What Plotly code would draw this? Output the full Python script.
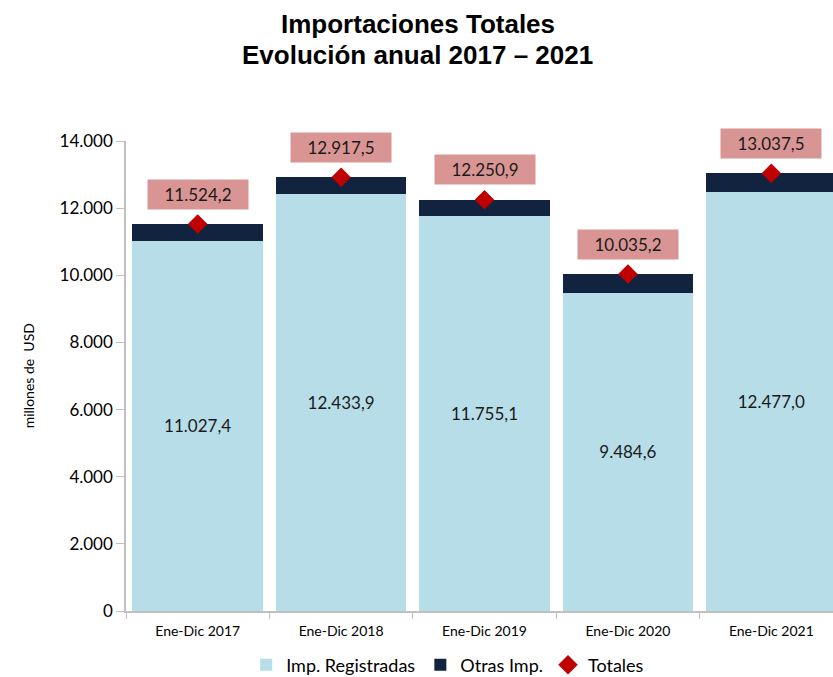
import plotly.graph_objects as go

categories = ["Ene-Dic 2017", "Ene-Dic 2018", "Ene-Dic 2019", "Ene-Dic 2020", "Ene-Dic 2021"]
registradas = [11027.4, 12433.9, 11755.1, 9484.6, 12477.0]
totales = [11524.2, 12917.5, 12250.9, 10035.2, 13037.5]
otras = [round(t - r, 1) for t, r in zip(totales, registradas)]
y_ticks = [0, 2000, 4000, 6000, 8000, 10000, 12000, 14000]

LIGHT = "#b7dde8"
NAVY = "#12233f"
RED = "#c00000"
PINK = "#d99594"
AXIS = "#c0c0c0"
FONT = "Lato"


def es_fmt(v):
    return f"{v:,.1f}".replace(",", "X").replace(".", ",").replace("X", ".")


fig = go.Figure()
fig.add_trace(go.Bar(
    x=categories, y=registradas, name="Imp. Registradas",
    marker=dict(color=LIGHT, line=dict(width=0)),
    texttemplate="%{y:,.1f}", textposition="inside", insidetextanchor="middle",
    textfont=dict(family=FONT, size=17, color="#1a1a1a"),
))
fig.add_trace(go.Bar(
    x=categories, y=otras, name="Otras Imp.",
    marker=dict(color=NAVY, line=dict(width=0)),
    textposition="none",
))
fig.add_trace(go.Scatter(
    x=categories, y=totales, name="Totales", mode="markers",
    marker=dict(symbol="diamond", size=15, color=RED),
    cliponaxis=False,
))

for c, t in zip(categories, totales):
    fig.add_annotation(
        x=c, y=t, xref="x", yref="y", text=es_fmt(t),
        showarrow=False, yshift=30, bgcolor=PINK, borderpad=4,
        font=dict(family=FONT, size=17, color="#1a1a1a"),
        width=92,
    )

fig.add_annotation(x=0.413, y=1.249, xref="paper", yref="paper", yanchor="middle",
                   text="<b>Importaciones Totales</b>",
                   showarrow=False, font=dict(family="Liberation Sans, Arial", size=26, color="black"))
fig.add_annotation(x=0.413, y=1.183, xref="paper", yref="paper", yanchor="middle",
                   text="<b>Evolución anual 2017 – 2021</b>",
                   showarrow=False, font=dict(family="Liberation Sans, Arial", size=26, color="black"))
fig.add_annotation(x=-0.153, y=0.5, xref="paper", yref="paper", text="millones de  USD", textangle=-90,
                   showarrow=False, font=dict(family=FONT, size=14, color="black"))

fig.update_layout(
    width=833, height=677,
    margin=dict(l=126, r=0, t=141, b=66, autoexpand=False),
    barmode="stack", bargap=0.09,
    separators=",.",
    plot_bgcolor="white", paper_bgcolor="white",
    showlegend=True,
    legend=dict(orientation="h", x=0.455, xanchor="center", y=-0.115, yanchor="middle",
                font=dict(family=FONT, size=18, color="black"), itemwidth=30,
                traceorder="normal", bgcolor="rgba(0,0,0,0)"),
    xaxis=dict(range=[-0.5, 4.43], showline=True, linecolor=AXIS, linewidth=1.5,
               ticks="outside", tickson="boundaries", ticklen=6, tickcolor=AXIS,
               ticklabelstandoff=6, automargin=False,
               tickfont=dict(family=FONT, size=14, color="black"), showgrid=False),
    yaxis=dict(range=[0, 14000], tickvals=y_ticks, tickformat=",d", showline=True, linecolor=AXIS,
               linewidth=1.5, ticks="outside", ticklen=8, tickcolor=AXIS, showgrid=False, zeroline=False,
               automargin=False,
               tickfont=dict(family=FONT, size=17, color="black")),
)

fig.write_html("out.html")
